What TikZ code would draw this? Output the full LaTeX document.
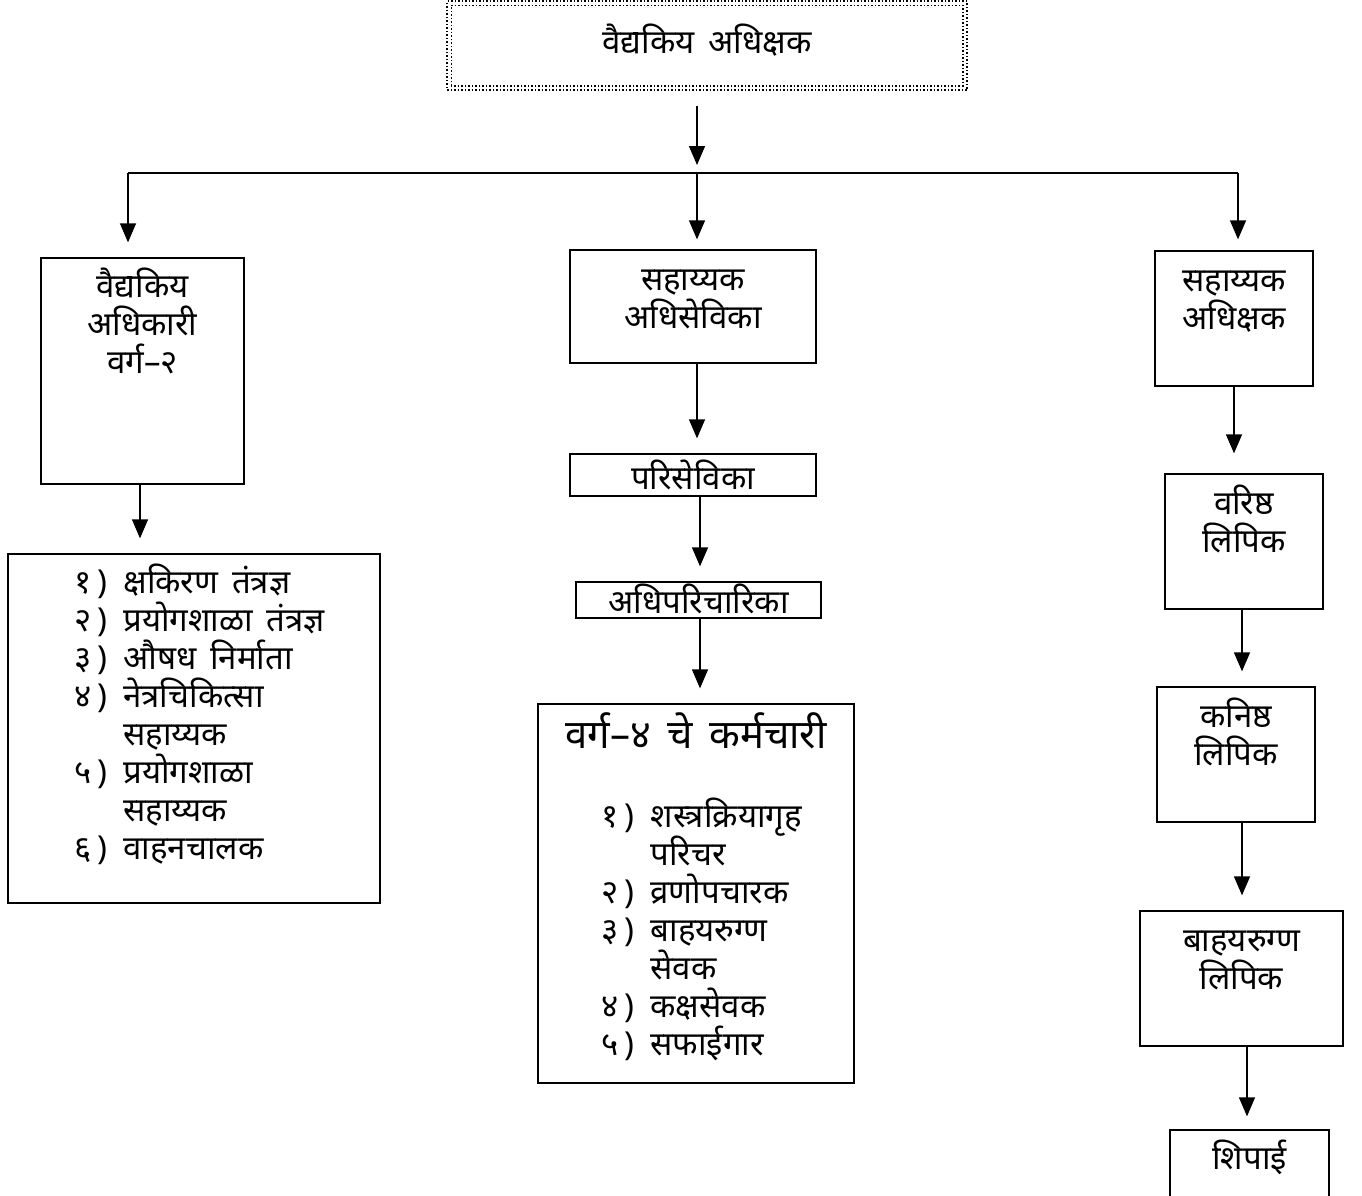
\documentclass[tikz,border=0pt]{standalone}
\usepackage{fontspec}
\usepackage{tikz}
\usetikzlibrary{arrows.meta, calc}
\newfontfamily\deva[Script=Devanagari, WordSpace=1.6]{Noto Sans}
\newcommand\mrtext{\deva\fontsize{33}{38}\selectfont\lineskiplimit=-\maxdimen}
\newcommand\mrbig{\deva\fontsize{40}{44}\selectfont}
\newcommand\tp{\rule{0pt}{34pt}}
\newcommand\num[1]{\makebox[40pt][r]{#1\,)}\enspace}
\newcommand\nonum{\hphantom{\num{१}}}

\begin{document}
\begin{tikzpicture}[
            x=1pt, y=-1pt,
            every node/.style={font=\mrtext},
            box/.style={draw, line width=1.3pt, inner sep=0pt},
            dotbox/.style={draw, dotted, line width=1.5pt},
            tag/.style={anchor=north, align=center, inner sep=0pt},
            list/.style={anchor=north, align=left, inner sep=0pt},
            link/.style={-{Triangle[width=16pt,length=19pt]}, line width=1.3pt,
                shorten >=15pt},
        ]
        \useasboundingbox (0,0) rectangle (1362,1195);
        % head of the office
        \node[dotbox, minimum width=520pt, minimum height=89pt] (head) at (707,45.5) {};
        \draw[dotbox] ([shift={(5pt,5pt)}]head.south west) rectangle ([shift={(-5pt,-5pt)}]head.north east);
        \node[tag] at ([yshift=-19pt]head.north) {\tp वैद्यकिय अधिक्षक};
        % three branches
        \coordinate (bus) at (697,173);
        \coordinate (busl) at (128,173);
        \coordinate (busr) at (1238,173);
        \node[box, minimum width=203pt, minimum height=226pt,
            label={[tag, yshift=-6pt]north:\tp वैद्यकिय\\अधिकारी\\वर्ग–२}] (mo) at (142.5,371) {};
        \node[box, minimum width=372pt, minimum height=349pt,
            label={[list, yshift=-6pt, xshift=2pt]north:{\baselineskip=38.5pt
                \tp\num{१}क्षकिरण तंत्रज्ञ\\
                \num{२}प्रयोगशाळा तंत्रज्ञ\\
                \num{३}औषध निर्माता\\
                \num{४}नेत्रचिकित्सा\\
                \nonum सहाय्यक\\
                \num{५}प्रयोगशाळा\\
                \nonum सहाय्यक\\
                \num{६}वाहनचालक}}] (tech) at (194,728.5) {};
        \node[box, minimum width=246pt, minimum height=113pt,
            label={[tag, yshift=-7pt]north:\tp सहाय्यक\\अधिसेविका}] (asn) at (693,306.5) {};
        \node[box, minimum width=246pt, minimum height=42pt] (pari) at (693,475) {परिसेविका};
        \node[box, minimum width=245pt, minimum height=36pt] (adhi) at (698.5,600) {\raisebox{2pt}{अधिपरिचारिका}};
        \node[box, minimum width=316pt, minimum height=379pt,
            label={[tag, yshift=-9pt]north:{\mrbig\tp वर्ग–४ चे कर्मचारी}},
            label={[list, yshift=-90pt, xshift=2pt]north:{\tp\num{१}शस्त्रक्रियागृह\\
                \nonum परिचर\\
                \num{२}व्रणोपचारक\\
                \num{३}बाहयरुग्ण\\
                \nonum सेवक\\
                \num{४}कक्षसेवक\\
                \num{५}सफाईगार}}] (cls4) at (696,893.5) {};
        \node[box, minimum width=158pt, minimum height=135pt,
            label={[tag, yshift=-7pt]north:\tp सहाय्यक\\अधिक्षक}] (asup) at (1234,318.5) {};
        \node[box, minimum width=158pt, minimum height=135pt,
            label={[tag, yshift=-7pt]north:\tp वरिष्ठ\\लिपिक}] (sclerk) at (1244,541.5) {};
        \node[box, minimum width=158pt, minimum height=135pt,
            label={[tag, yshift=-7pt]north:\tp कनिष्ठ\\लिपिक}] (jclerk) at (1236,754.5) {};
        \node[box, minimum width=203pt, minimum height=135pt,
            label={[tag, yshift=-7pt]north:\tp बाहयरुग्ण\\लिपिक}] (opd) at (1241.5,978.5) {};
        \node[box, minimum width=159pt, minimum height=100pt,
            label={[tag, yshift=-6pt]north:\tp शिपाई}] (peon) at (1249.5,1180) {};
        % connectors
        \draw[link, shorten <=15pt, shorten >=8pt] (head.south -| bus) -- (bus);
        \draw[line width=1.3pt] (busl) -- (busr);
        \draw[link] (busl) -- (busl |- mo.north);
        \draw[link, shorten >=10pt] (bus) -- (bus |- asn.north);
        \draw[link, shorten >=11pt] (busr) -- (busr |- asup.north);
        \draw[link] ([xshift=-2.5pt]mo.south) -- ([xshift=-2.5pt]mo.south |- tech.north);
        \draw[link] ([xshift=4pt]asn.south) -- ([xshift=4pt]asn.south |- pari.north);
        \draw[link] ([xshift=7pt]pari.south) -- ([xshift=7pt]pari.south |- adhi.north);
        \draw[link] ([xshift=1.5pt]adhi.south) -- ([xshift=1.5pt]adhi.south |- cls4.north);
        \draw[link, shorten >=20pt] (asup.south) -- (asup.south |- sclerk.north);
        \draw[link] ([xshift=-2pt]sclerk.south) -- ([xshift=-2pt]sclerk.south |- jclerk.north);
        \draw[link] ([xshift=6pt]jclerk.south) -- ([xshift=6pt]jclerk.south |- opd.north);
        \draw[link, shorten >=13pt] ([xshift=5.5pt]opd.south) -- ([xshift=5.5pt]opd.south |- peon.north);
\end{tikzpicture}
\end{document}
